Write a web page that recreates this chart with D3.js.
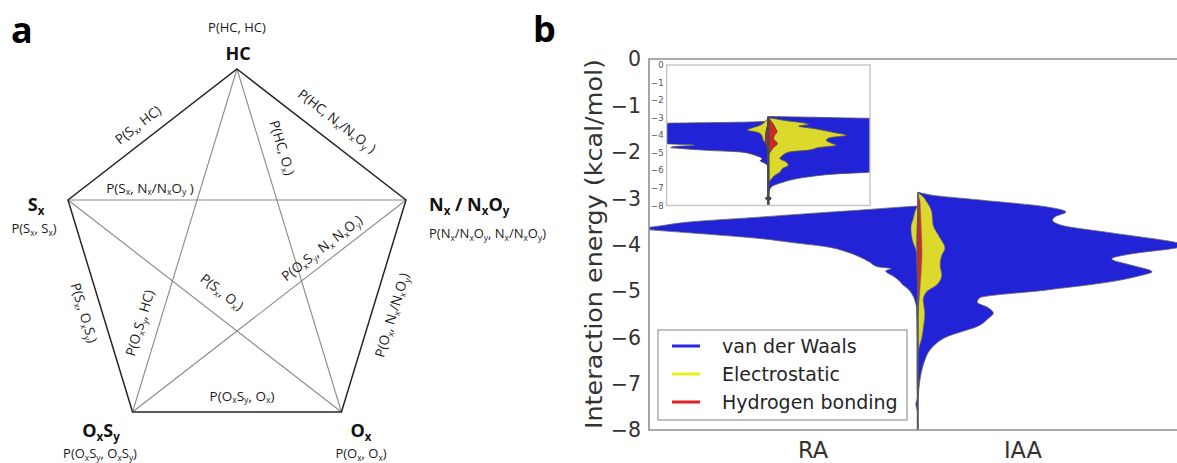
<!DOCTYPE html>
<html><head><meta charset="utf-8">
<script src="https://cdn.jsdelivr.net/npm/d3@7"></script>
<style>html,body{margin:0;padding:0;background:#fff;} svg{display:block;}</style>
</head><body>
<svg id="chart" width="1177" height="463"></svg>
<script>
// ---------------- DATA ----------------
// Panel a: interaction graph
const vertexNames = ["HC", "N_x / N_xO_y", "O_x", "O_xS_y", "S_x"];
const selfLabels = ["P(HC, HC)", "P(N_x/N_xO_y, N_x/N_xO_y)", "P(O_x, O_x)", "P(O_xS_y, O_xS_y)", "P(S_x, S_x)"];
const pairs = [[4,0],[0,1],[0,2],[4,1],[3,1],[4,2],[3,0],[4,3],[2,1],[3,2]];
const pairLabels = ["P(S_x, HC)", "P(HC, N_x/N_xO_y )", "P(HC, O_x)", "P(S_x, N_x/N_xO_y )",
  "P(O_xS_y, N_x N_xO_y)", "P(S_x, O_x)", "P(O_xS_y, HC)", "P(S_x, O_xS_y)", "P(O_x, N_x/N_xO_y)", "P(O_xS_y, O_x)"];

// Panel b: violin densities, [energy (kcal/mol), half-width]
const energyTicks = [0, -1, -2, -3, -4, -5, -6, -7, -8];
const categories = ["RA", "IAA"];
const seriesNames = ["van der Waals", "Electrostatic", "Hydrogen bonding"];

const raVdw = [[-3.17,0],[-3.20,0.08],[-3.26,0.22],[-3.33,0.40],[-3.41,0.59],[-3.51,0.84],[-3.60,0.96],[-3.665,1.03],[-3.70,0.96],[-3.77,0.80],[-3.87,0.59],[-3.97,0.45],[-4.05,0.34],[-4.15,0.27],[-4.26,0.22],[-4.38,0.18],[-4.48,0.15],[-4.52,0.10],[-4.57,0.12],[-4.69,0.09],[-4.78,0.07],[-4.87,0.056],[-4.97,0.035],[-5.09,0.02],[-5.2,0.012],[-5.35,0.006],[-6.0,0.004],[-7.0,0.004],[-7.3,0.003],[-7.45,0.008],[-7.6,0.003],[-8.0,0.003]];
const raElec = [[-3.15,0],[-3.29,0.011],[-3.43,0.017],[-3.64,0.026],[-3.80,0.024],[-3.94,0.019],[-4.15,0.006],[-4.35,0.002],[-4.6,0]];
const raHb = [[-3.3,0],[-3.6,0.004],[-4.0,0.006],[-4.4,0.005],[-4.8,0.002],[-5.0,0]];
const iaaVdw = [[-2.87,0],[-2.93,0.045],[-3.04,0.23],[-3.19,0.48],[-3.30,0.55],[-3.40,0.51],[-3.47,0.50],[-3.58,0.53],[-3.75,0.72],[-3.95,0.955],[-4.01,1.0],[-4.08,0.955],[-4.18,0.82],[-4.31,0.72],[-4.45,0.795],[-4.59,0.87],[-4.68,0.82],[-4.80,0.72],[-4.98,0.48],[-5.15,0.23],[-5.24,0.22],[-5.36,0.26],[-5.48,0.28],[-5.60,0.26],[-5.74,0.23],[-5.99,0.107],[-6.27,0.045],[-6.5,0.025],[-6.71,0.014],[-7.07,0.004],[-7.3,0]];
const iaaElec = [[-2.89,0],[-2.95,0.015],[-3.08,0.032],[-3.30,0.051],[-3.58,0.056],[-3.86,0.082],[-4.08,0.10],[-4.23,0.088],[-4.44,0.082],[-4.66,0.088],[-4.87,0.07],[-5.02,0.032],[-5.20,0.019],[-5.48,0.025],[-5.78,0.02],[-6.06,0.012],[-6.21,0.004],[-6.35,0]];
const iaaHb = [[-2.92,0],[-3.1,0.008],[-3.5,0.011],[-3.9,0.014],[-4.2,0.015],[-4.6,0.012],[-5.0,0.007],[-5.3,0.003],[-5.5,0]];

// inset
const insRaVdw = [[-3.20,0],[-3.24,0.15],[-3.28,0.5],[-3.33,1.05],[-4.45,1.05],[-4.50,0.95],[-4.57,0.72],[-4.63,0.90],[-4.70,0.96],[-4.76,0.85],[-4.86,0.60],[-4.95,0.28],[-5.05,0.18],[-5.14,0.13],[-5.25,0.08],[-5.35,0.06],[-5.45,0.08],[-5.55,0.05],[-5.65,0.02],[-5.8,0.006],[-7.45,0.004],[-7.6,0.03],[-7.75,0.004],[-8,0.004]];
const insRaElec = [[-3.05,0],[-3.2,0.03],[-3.43,0.08],[-3.6,0.17],[-3.71,0.21],[-3.8,0.13],[-3.9,0.08],[-4.1,0.06],[-4.29,0.05],[-4.5,0.02],[-4.7,0]];
const insRaHb = [[-3.3,0],[-3.7,0.02],[-4.2,0.03],[-4.6,0.02],[-5.0,0]];
const insIaaVdw = [[-2.93,0],[-2.96,0.3],[-3.0,0.65],[-3.05,1.05],[-6.05,1.05],[-6.10,1.0],[-6.19,0.70],[-6.38,0.38],[-6.52,0.24],[-6.67,0.145],[-6.86,0.05],[-7.05,0.017],[-7.3,0.004],[-7.45,0.004],[-7.6,0.03],[-7.75,0.004],[-8,0.004]];
const insIaaElec = [[-3.0,0],[-3.05,0.06],[-3.15,0.15],[-3.3,0.35],[-3.38,0.40],[-3.48,0.30],[-3.62,0.45],[-3.85,0.65],[-4.0,0.77],[-4.15,0.60],[-4.29,0.57],[-4.45,0.62],[-4.57,0.67],[-4.7,0.50],[-4.86,0.38],[-4.95,0.21],[-5.15,0.14],[-5.33,0.115],[-5.5,0.17],[-5.71,0.197],[-5.9,0.14],[-6.1,0.115],[-6.3,0.06],[-6.47,0.034],[-6.7,0]];
const insIaaHb = [[-3.0,0],[-3.3,0.04],[-3.6,0.07],[-3.8,0.085],[-4.0,0.06],[-4.2,0.05],[-4.47,0.09],[-4.7,0.05],[-5.0,0.012],[-5.1,0]];

// ---------------- STYLE / LAYOUT ----------------
const fillColors = ["#2222d6", "#dcd82c", "#d8261c"];
const legendColors = ["#2424e6", "#eeee22", "#e02222"];
const svg = d3.select("#chart");
const fontA = "'Open Sans', 'Noto Sans', sans-serif";
const fontB = "'DejaVu Sans', sans-serif";

function rich(sel, str, size) {
  const parts = []; let buf = "";
  for (let i = 0; i < str.length; i++) {
    if (str[i] === "_" && i + 1 < str.length) {
      if (buf) { parts.push({t: buf, sub: false}); buf = ""; }
      parts.push({t: str[i + 1], sub: true}); i++;
    } else buf += str[i];
  }
  if (buf) parts.push({t: buf, sub: false});
  let shifted = false;
  parts.forEach(p => {
    const ts = sel.append("tspan").text(p.t);
    if (p.sub) {
      ts.attr("font-size", size * 0.64);
      if (!shifted) { ts.attr("dy", size * 0.2); shifted = true; }
    } else if (shifted) { ts.attr("dy", -size * 0.2); shifted = false; }
  });
}

// ---------------- PANEL A ----------------
const pa = svg.append("g");
const pc = {x: 237, y: 258.6, rx: 177.7, ry: 189.6};
const verts = d3.range(5).map(i => {
  const a = -Math.PI / 2 + i * 2 * Math.PI / 5;
  return [pc.x + pc.rx * Math.cos(a), pc.y + pc.ry * Math.sin(a)];
});
d3.range(5).forEach(i => {
  const A = verts[i], B = verts[(i + 2) % 5];
  pa.append("line").attr("x1", A[0]).attr("y1", A[1]).attr("x2", B[0]).attr("y2", B[1])
    .attr("stroke", "#8a8a8a").attr("stroke-width", 1.1);
});
pa.append("path").attr("d", d3.line()(verts) + "Z").attr("fill", "none")
  .attr("stroke", "#262626").attr("stroke-width", 1.5);

const nameLayout = [["middle", 238, 60], ["start", 429, 211], ["middle", 361, 437], ["middle", 101, 437], ["middle", 36, 211]];
const selfLayout = [["middle", 237, 32], ["start", 429, 238], ["middle", 361, 458], ["middle", 100, 458], ["middle", 34, 233]];
vertexNames.forEach((n, i) => {
  const t = pa.append("text").attr("x", nameLayout[i][1]).attr("y", nameLayout[i][2])
    .attr("text-anchor", nameLayout[i][0]).attr("font-family", fontA).attr("font-weight", "bold")
    .attr("font-size", 18).attr("fill", "#111");
  rich(t, n, 18);
  const s = pa.append("text").attr("x", selfLayout[i][1]).attr("y", selfLayout[i][2])
    .attr("text-anchor", selfLayout[i][0]).attr("font-family", fontA)
    .attr("font-size", 13).attr("fill", "#1a1a1a");
  rich(s, selfLabels[i], 13);
});
const pairLayout = [[138,125],[337,121],[282,148],[150,188],[322,248],[222,292],[140,323],[84,313],[392,315],[242,396]];
pairs.forEach((p, i) => {
  const A = verts[p[0]], B = verts[p[1]];
  const ang = Math.atan2(B[1] - A[1], B[0] - A[0]) * 180 / Math.PI;
  const [cx, cy] = pairLayout[i];
  const t = pa.append("text").attr("transform", `translate(${cx},${cy}) rotate(${ang})`)
    .attr("text-anchor", "middle").attr("dy", "0.35em").attr("font-family", fontA)
    .attr("font-size", 13.5).attr("fill", "#1a1a1a");
  rich(t, pairLabels[i], 13.5);
});

svg.append("text").attr("x", 11).attr("y", 43).attr("font-family", fontA).attr("font-weight", "bold")
  .attr("font-size", 36).attr("fill", "#000").text("a");
svg.append("text").attr("x", 533).attr("y", 42).attr("font-family", fontA).attr("font-weight", "bold")
  .attr("font-size", 36).attr("fill", "#000").text("b");

// ---------------- PANEL B ----------------
const box = {l: 649, r: 1187, t: 59, b: 430};
const x = d3.scaleLinear().domain([-1, 1]).range([box.l, box.r]);
const y = d3.scaleLinear().domain([0, -8]).range([box.t, box.b]);

svg.append("defs").append("clipPath").attr("id", "mainclip").append("rect")
  .attr("x", box.l).attr("y", box.t).attr("width", box.r - box.l).attr("height", box.b - box.t);

function violin(g, data, side, xs, ys, fill, stroke, sw) {
  const area = d3.area().curve(d3.curveMonotoneY)
    .y(d => ys(d[0])).x0(xs(0)).x1(d => xs(side * d[1]));
  g.append("path").attr("d", area(data)).attr("fill", fill)
    .attr("stroke", stroke).attr("stroke-width", sw).attr("stroke-linejoin", "round");
}

const gm = svg.append("g").attr("clip-path", "url(#mainclip)");
violin(gm, raVdw, -1, x, y, fillColors[0], "#666", 0.8);
violin(gm, iaaVdw, 1, x, y, fillColors[0], "#666", 0.8);
violin(gm, raElec, -1, x, y, fillColors[1], "#777", 0.6);
violin(gm, iaaElec, 1, x, y, fillColors[1], "#777", 0.6);
violin(gm, raHb, -1, x, y, fillColors[2], "#777", 0.5);
violin(gm, iaaHb, 1, x, y, fillColors[2], "#777", 0.5);
gm.append("line").attr("x1", x(0)).attr("x2", x(0)).attr("y1", y(iaaVdw[0][0])).attr("y2", y(-8))
  .attr("stroke", "#555").attr("stroke-width", 1.4);

const frame = svg.append("g").attr("stroke", "#8f8f8f").attr("stroke-width", 1.6).attr("fill", "none");
frame.append("path").attr("d", `M${box.r},${box.t}H${box.l}V${box.b}H${box.r}`);

svg.append("g").selectAll("text").data(energyTicks).join("text")
  .attr("x", box.l - 8).attr("y", d => y(d)).attr("dy", "0.36em").attr("text-anchor", "end")
  .attr("font-family", fontB).attr("font-size", 20.5).attr("fill", "#333")
  .text(d => d === 0 ? "0" : "\u2212" + Math.abs(d));
svg.append("text").attr("transform", `translate(602,244) rotate(-90)`).attr("text-anchor", "middle")
  .attr("font-family", fontB).attr("font-size", 23.5).attr("fill", "#333")
  .attr("textLength", 370).attr("lengthAdjust", "spacingAndGlyphs")
  .text("Interaction energy (kcal/mol)");
const catX = d3.scalePoint().domain(categories).range([x(-0.39), x(0.39)]);
svg.append("g").selectAll("text").data(categories).join("text")
  .attr("x", d => catX(d)).attr("y", 458).attr("text-anchor", "middle")
  .attr("font-family", fontB).attr("font-size", 22.5).attr("fill", "#333").text(d => d);

// ---------------- INSET ----------------
const ib = {l: 666.6, r: 870, t: 65, b: 205.5};
const xi = d3.scaleLinear().domain([-1, 1]).range([ib.l, ib.r]);
const yi = d3.scaleLinear().domain([0, -8]).range([ib.t, ib.b]);
svg.select("defs").append("clipPath").attr("id", "insclip").append("rect")
  .attr("x", ib.l).attr("y", ib.t).attr("width", ib.r - ib.l).attr("height", ib.b - ib.t);
svg.append("rect").attr("x", ib.l).attr("y", ib.t).attr("width", ib.r - ib.l).attr("height", ib.b - ib.t)
  .attr("fill", "#fff");
const gi = svg.append("g").attr("clip-path", "url(#insclip)");
violin(gi, insRaVdw, -1, xi, yi, fillColors[0], "#555", 0.8);
violin(gi, insIaaVdw, 1, xi, yi, fillColors[0], "#555", 0.8);
violin(gi, insRaElec, -1, xi, yi, fillColors[1], "#555", 0.9);
violin(gi, insIaaElec, 1, xi, yi, fillColors[1], "#555", 0.9);
violin(gi, insRaHb, -1, xi, yi, fillColors[2], "#444", 1);
violin(gi, insIaaHb, 1, xi, yi, fillColors[2], "#444", 1);
gi.append("line").attr("x1", xi(0)).attr("x2", xi(0)).attr("y1", yi(insIaaVdw[0][0])).attr("y2", yi(-8))
  .attr("stroke", "#4a4a4a").attr("stroke-width", 2.6);
svg.append("rect").attr("x", ib.l).attr("y", ib.t).attr("width", ib.r - ib.l).attr("height", ib.b - ib.t)
  .attr("fill", "none").attr("stroke", "#c4c4c4").attr("stroke-width", 1.4);
svg.append("g").selectAll("text").data(energyTicks).join("text")
  .attr("x", ib.l - 3).attr("y", d => yi(d)).attr("dy", "0.36em").attr("text-anchor", "end")
  .attr("font-family", fontB).attr("font-size", 8.5).attr("fill", "#555")
  .text(d => d === 0 ? "0" : "\u2212" + Math.abs(d));

// ---------------- LEGEND ----------------
const lg = svg.append("g");
lg.append("rect").attr("x", 658).attr("y", 330).attr("width", 249).attr("height", 90)
  .attr("fill", "#fff").attr("stroke", "#a0a0a0").attr("stroke-width", 1.3);
const ly = d3.scalePoint().domain(seriesNames).range([346, 402]);
seriesNames.forEach((n, i) => {
  lg.append("line").attr("x1", 672).attr("x2", 700).attr("y1", ly(n)).attr("y2", ly(n))
    .attr("stroke", legendColors[i]).attr("stroke-width", 3);
  lg.append("text").attr("x", 722).attr("y", ly(n)).attr("dy", "0.35em")
    .attr("font-family", fontB).attr("font-size", 19).attr("fill", "#262626").text(n);
});
</script></body></html>
